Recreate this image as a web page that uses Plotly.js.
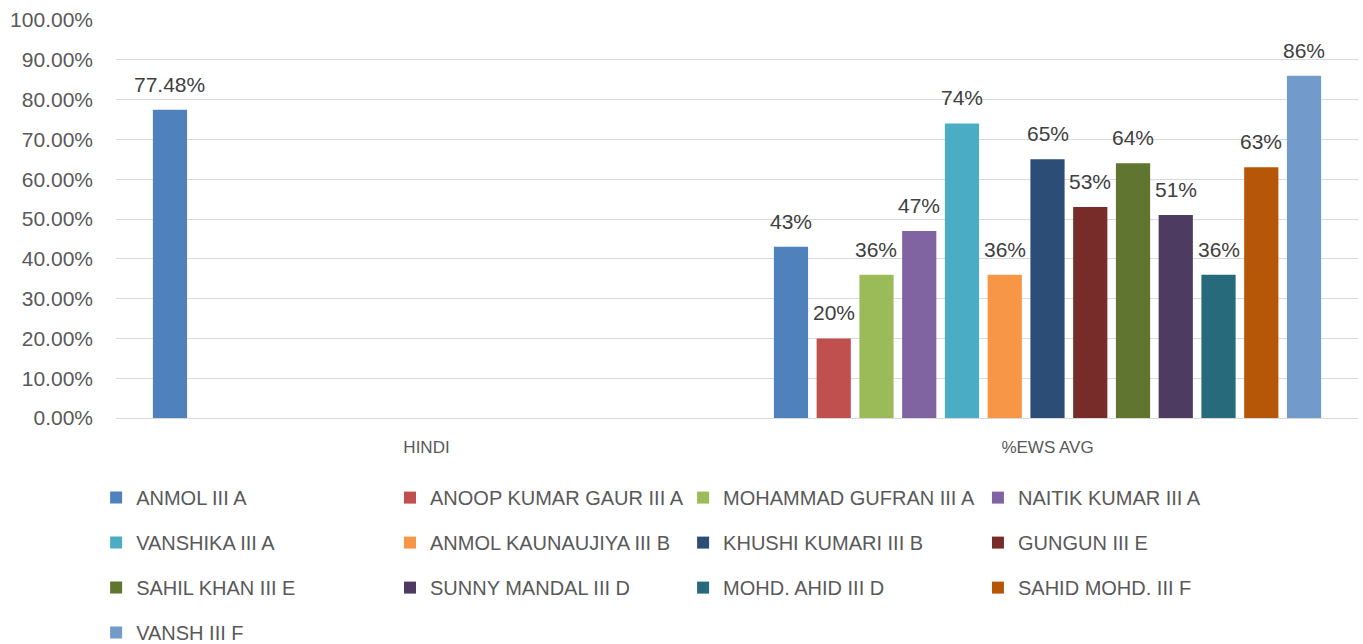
<!DOCTYPE html>
<html>
<head>
<meta charset="utf-8">
<script src="https://cdn.plot.ly/plotly-3.0.1.min.js"></script>
<style>
  html, body { margin: 0; padding: 0; background: #fff; }
  #chart { width: 1363px; height: 644px; }
</style>
</head>
<body>
<div id="chart"></div>
<script>
var categories = ['HINDI', '%EWS AVG'];

var students = ['ANMOL III A',
  'ANOOP KUMAR GAUR III A',
  'MOHAMMAD GUFRAN III A',
  'NAITIK KUMAR III A',
  'VANSHIKA III A',
  'ANMOL KAUNAUJIYA III B',
  'KHUSHI KUMARI III B',
  'GUNGUN III E',
  'SAHIL KHAN III E',
  'SUNNY MANDAL III D',
  'MOHD. AHID III D',
  'SAHID MOHD. III F',
  'VANSH III F'];

// HINDI score (only the first student has one)
var hindi = [0.7748, null, null, null, null, null, null, null, null, null, null, null, null];

// %EWS AVG per student
var ewsAvg = [0.43, 0.20, 0.36, 0.47, 0.74, 0.36, 0.65, 0.53, 0.64, 0.51, 0.36, 0.63, 0.86];

var colors = ['#4F81BD', '#C0504D', '#9BBB59', '#8064A2', '#4BACC6', '#F79646',
  '#2C4D75', '#772C2A', '#5F7530', '#4D3B62', '#276A7C', '#B65708', '#729ACA'];

var yTicks = [0, 0.1, 0.2, 0.3, 0.4, 0.5, 0.6, 0.7, 0.8, 0.9, 1.0];

// label formats per category: HINDI with decimals, EWS rounded
var labelDigits = [2, 0];

// legend laid out like Excel: 4 columns, filled row by row
var legendIds = ['legend', 'legend2', 'legend3', 'legend4'];
var legendX = [-0.016, 0.2206, 0.4566, 0.694];

var bargap = 0.105;
var nSeries = students.length;
var slot = (1 - bargap) / nSeries;

var data = students.map(function (name, i) {
  return {
    x: categories,
    y: [hindi[i], ewsAvg[i]],
    name: name,
    legend: legendIds[i % 4],
    legendgroup: 'g' + i,
    type: 'bar',
    marker: { color: colors[i] },
    hoverinfo: 'name+y'
  };
});

// data labels sit a bit above each bar, like Excel's
var annotations = [];
data.forEach(function (tr, i) {
  tr.y.forEach(function (v, j) {
    if (v == null) return;
    annotations.push({
      xref: 'x', yref: 'y',
      x: j - (1 - bargap) / 2 + (i + 0.5) * slot,
      y: v,
      yanchor: 'bottom',
      yshift: 12,
      showarrow: false,
      text: (v * 100).toFixed(labelDigits[j]) + '%',
      font: { family: 'Liberation Sans, Arial, sans-serif', size: 21, color: '#404040' }
    });
  });
});

var layout = {
  width: 1363,
  height: 644,
  barmode: 'group',
  bargap: bargap,
  bargroupgap: 0.2,
  margin: { l: 116, r: 5, t: 20, b: 226, autoexpand: false },
  paper_bgcolor: '#fff',
  plot_bgcolor: '#fff',
  font: { family: 'Liberation Sans, Arial, sans-serif', color: '#595959' },
  xaxis: {
    type: 'category',
    showline: false,
    showgrid: false,
    ticks: '',
    ticklen: 0,
    ticklabelstandoff: 17,
    tickfont: { size: 17, color: '#595959' }
  },
  yaxis: {
    range: [0, 1.0],
    tickvals: yTicks,
    tickformat: '.2%',
    showgrid: true,
    gridcolor: '#D9D9D9',
    gridwidth: 1,
    zeroline: true,
    zerolinecolor: '#D9D9D9',
    zerolinewidth: 1,
    showline: false,
    ticks: '',
    ticklabelstandoff: 22,
    tickfont: { size: 21, color: '#595959' }
  },
  annotations: annotations,
  showlegend: true
};

legendIds.forEach(function (id, k) {
  layout[id] = {
    orientation: 'v',
    x: legendX[k],
    xanchor: 'left',
    y: -0.151,
    yanchor: 'top',
    traceorder: 'grouped',
    tracegroupgap: 16,
    bgcolor: 'rgba(0,0,0,0)',
    font: { size: 20, color: '#595959' },
    itemwidth: 30
  };
});

Plotly.newPlot('chart', data, layout, { responsive: false, displayModeBar: false });
</script>
</body>
</html>
